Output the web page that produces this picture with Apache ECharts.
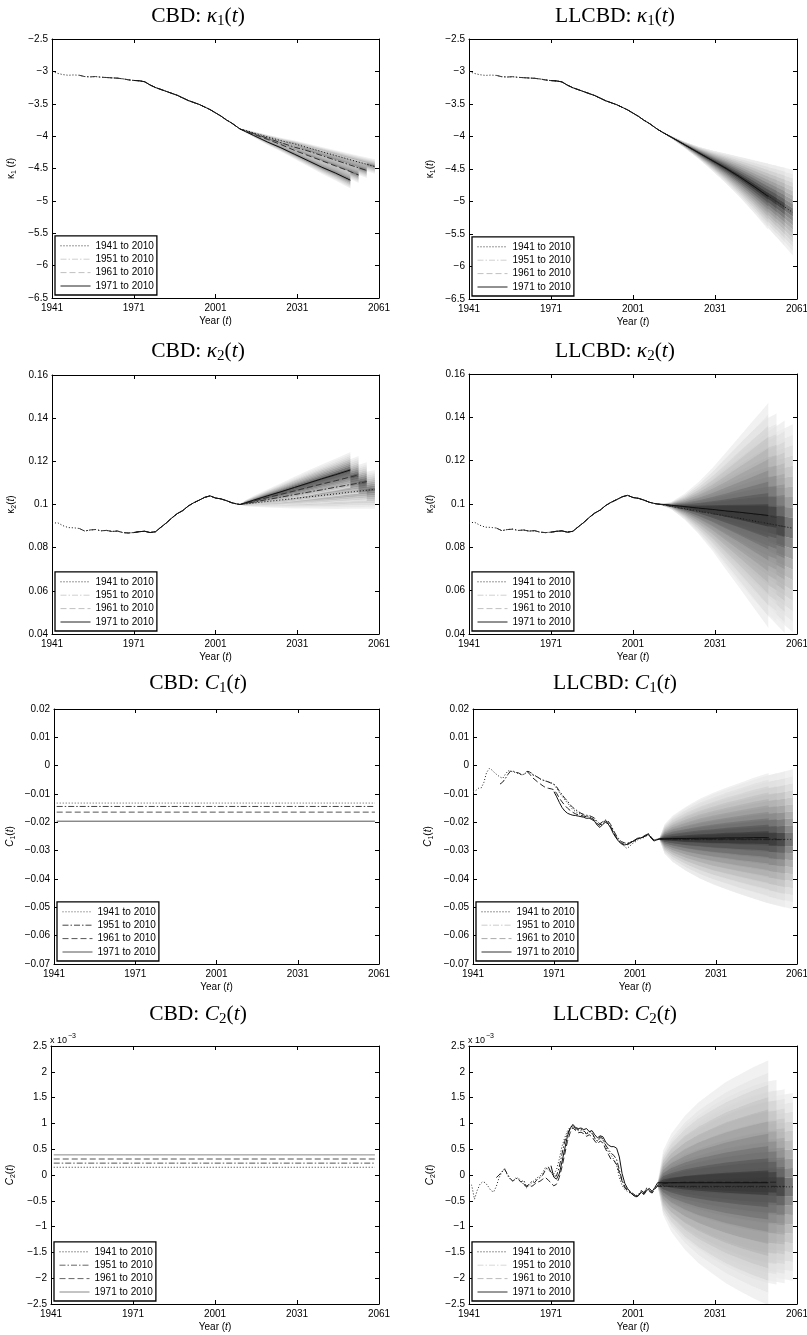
<!DOCTYPE html>
<html><head><meta charset="utf-8">
<script src="https://cdn.jsdelivr.net/npm/echarts@6/dist/echarts.min.js"></script>
<style>html,body{margin:0;padding:0;background:#fff}#c{width:807px;height:1335px}</style>
</head><body><div id="c"></div>
<script>
// ---------------- DATA ----------------
const FIT_NAMES = ['1941 to 2010', '1951 to 2010', '1961 to 2010', '1971 to 2010'];
const FIT_START = [1941, 1951, 1961, 1971];
const X_TICKS = [1941, 1971, 2001, 2031, 2061];
const K1_TICKS = [-6.5, -6, -5.5, -5, -4.5, -4, -3.5, -3, -2.5];
const K2_TICKS = [0.04, 0.06, 0.08, 0.1, 0.12, 0.14, 0.16];
const C1_TICKS = [-0.07, -0.06, -0.05, -0.04, -0.03, -0.02, -0.01, 0, 0.01, 0.02];
const C2_TICKS = [-2.5, -2, -1.5, -1, -0.5, 0, 0.5, 1, 1.5, 2, 2.5]; // x 10^-3

// forecast knot years (plus each fit's own end year)
const FC_KNOTS = [2010, 2012, 2015, 2020, 2025, 2030, 2035, 2040, 2045, 2050];
const FC_END = [2059.5, 2056.5, 2053.5, 2050.5];

const KAPPA1_HIST = [[1941,-3.00],[1943,-3.03],[1945,-3.05],[1947,-3.06],[1949,-3.055],[1951,-3.06],[1953,-3.08],[1955,-3.085],[1957,-3.08],[1959,-3.09],[1961,-3.095],[1963,-3.10],[1965,-3.105],[1967,-3.115],[1969,-3.13],[1971,-3.14],[1973,-3.145],[1975,-3.16],[1977,-3.21],[1979,-3.25],[1981,-3.28],[1983,-3.31],[1985,-3.34],[1987,-3.37],[1989,-3.41],[1991,-3.45],[1993,-3.48],[1995,-3.51],[1997,-3.55],[1999,-3.59],[2001,-3.64],[2003,-3.69],[2005,-3.75],[2007,-3.80],[2009,-3.86],[2010,-3.89]];
const KAPPA2_HIST = [[1941,0.0912],[1943,0.0916],[1945,0.0902],[1947,0.0893],[1949,0.0892],[1951,0.0889],[1953,0.0877],[1955,0.0882],[1957,0.0884],[1959,0.0878],[1961,0.0880],[1963,0.0875],[1965,0.0877],[1967,0.0870],[1969,0.0868],[1971,0.0870],[1973,0.0874],[1975,0.0876],[1977,0.0870],[1979,0.0874],[1981,0.0895],[1983,0.0915],[1985,0.0938],[1987,0.0958],[1989,0.0972],[1991,0.0993],[1993,0.1008],[1995,0.1020],[1997,0.1033],[1999,0.1040],[2001,0.1030],[2003,0.1026],[2005,0.1018],[2007,0.1008],[2009,0.1002],[2010,0.1000]];

// CBD kappa1 forecasts (rows: 1941, 1951, 1961, 1971 fits)
const CBD_K1_CENTER = [
  [-3.89,-3.91,-3.95,-4.01,-4.07,-4.12,-4.18,-4.24,-4.30,-4.36,-4.47],
  [-3.89,-3.92,-3.96,-4.03,-4.10,-4.17,-4.23,-4.30,-4.37,-4.44,-4.53],
  [-3.89,-3.92,-3.97,-4.05,-4.13,-4.22,-4.30,-4.38,-4.46,-4.54,-4.60],
  [-3.89,-3.93,-3.99,-4.09,-4.18,-4.28,-4.38,-4.48,-4.57,-4.67,-4.68]];
const CBD_K1_SPREAD = [
  [0,0.012,0.020,0.032,0.043,0.053,0.063,0.073,0.083,0.093,0.112],
  [0,0.013,0.022,0.035,0.047,0.058,0.069,0.080,0.091,0.102,0.118],
  [0,0.014,0.024,0.038,0.051,0.064,0.076,0.088,0.100,0.112,0.124],
  [0,0.016,0.027,0.043,0.058,0.072,0.086,0.100,0.114,0.128,0.130]];
// LLCBD kappa1
const LL_K1_CENTER = [
  [-3.89,-3.94,-4.01,-4.13,-4.25,-4.37,-4.49,-4.62,-4.76,-4.90,-5.17],
  [-3.89,-3.94,-4.01,-4.13,-4.25,-4.37,-4.49,-4.62,-4.76,-4.90,-5.08],
  [-3.89,-3.94,-4.01,-4.13,-4.25,-4.37,-4.49,-4.62,-4.76,-4.90,-5.00],
  [-3.89,-3.94,-4.01,-4.13,-4.25,-4.37,-4.49,-4.62,-4.76,-4.91,-4.92]];
const LL_K1_SPREAD = [
  [0,0.005,0.015,0.045,0.09,0.15,0.22,0.30,0.39,0.48,0.66],
  [0,0.005,0.015,0.045,0.09,0.15,0.22,0.30,0.39,0.48,0.60],
  [0,0.005,0.015,0.045,0.09,0.15,0.22,0.30,0.39,0.48,0.55],
  [0,0.005,0.016,0.047,0.094,0.155,0.23,0.31,0.40,0.50,0.51]];
// CBD kappa2
const CBD_K2_CENTER = [
  [0.1000,0.1003,0.1007,0.1014,0.1021,0.1028,0.1035,0.1042,0.1049,0.1057,0.1070],
  [0.1000,0.1005,0.1011,0.1023,0.1034,0.1046,0.1057,0.1068,0.1080,0.1091,0.1106],
  [0.1000,0.1006,0.1016,0.1032,0.1047,0.1063,0.1079,0.1095,0.1110,0.1126,0.1137],
  [0.1000,0.1008,0.1020,0.1040,0.1059,0.1079,0.1099,0.1119,0.1138,0.1158,0.1160]];
const CBD_K2_SPREAD = [
  [0,0.0011,0.0018,0.0028,0.0037,0.0046,0.0054,0.0062,0.0070,0.0077,0.0090],
  [0,0.0011,0.0018,0.0028,0.0037,0.0046,0.0055,0.0063,0.0071,0.0079,0.0090],
  [0,0.0012,0.0019,0.0029,0.0039,0.0048,0.0057,0.0065,0.0073,0.0081,0.0088],
  [0,0.0012,0.0020,0.0030,0.0040,0.0049,0.0058,0.0066,0.0074,0.0082,0.0083]];
// LLCBD kappa2
const LL_K2_CENTER = [
  [0.1000,0.0996,0.0989,0.0978,0.0967,0.0956,0.0945,0.0934,0.0922,0.0911,0.0888],
  [0.1000,0.0996,0.0989,0.0977,0.0966,0.0955,0.0944,0.0933,0.0921,0.0910,0.0895],
  [0.1000,0.0998,0.0994,0.0987,0.0980,0.0973,0.0966,0.0959,0.0952,0.0945,0.0938],
  [0.1000,0.0998,0.0994,0.0988,0.0981,0.0975,0.0968,0.0962,0.0955,0.0948,0.0947]];
const LL_K2_SPREAD = [
  [0,0.0004,0.0012,0.0048,0.0095,0.0155,0.022,0.028,0.034,0.040,0.048],
  [0,0.0004,0.0013,0.0050,0.0100,0.0160,0.023,0.030,0.036,0.042,0.049],
  [0,0.0004,0.0014,0.0055,0.0110,0.0175,0.025,0.032,0.039,0.045,0.048],
  [0,0.0004,0.0015,0.0060,0.0120,0.0190,0.027,0.035,0.043,0.051,0.052]];

// CBD C1 / C2 constant estimates
const CBD_C1_LEVELS = [-0.0132, -0.0144, -0.0164, -0.0196];
const CBD_C2_LEVELS = [0.15, 0.23, 0.31, 0.39]; // x 10^-3
const CBD_C_SPAN = [1942, 2059.5];

// LLCBD C1 history
const LL_C1_HIST_1941 = [[1941,-0.0092],[1942,-0.0088],[1943,-0.0080],[1944,-0.0079],[1945,-0.0060],[1946,-0.0025],[1947,-0.0010],[1948,-0.0015],[1949,-0.0025],[1950,-0.0033],[1951,-0.0040],[1952,-0.0045],[1953,-0.0030],[1954,-0.0018],[1955,-0.0020],[1956,-0.0022],[1957,-0.0025],[1958,-0.0028],[1959,-0.0033],[1960,-0.0030],[1961,-0.0022],[1962,-0.0020],[1963,-0.0030],[1964,-0.0035],[1965,-0.0040],[1966,-0.0048],[1967,-0.0052],[1968,-0.0055],[1969,-0.0057],[1970,-0.0060],[1971,-0.0068],[1972,-0.0080],[1973,-0.0095],[1974,-0.0108],[1975,-0.0120],[1976,-0.0132],[1977,-0.0145],[1978,-0.0155],[1979,-0.0162],[1980,-0.0168],[1981,-0.0172],[1982,-0.0175],[1983,-0.0180],[1984,-0.0178],[1985,-0.0185],[1986,-0.0190],[1987,-0.0205],[1988,-0.0212],[1989,-0.0205],[1990,-0.0198],[1991,-0.0200],[1992,-0.0215],[1993,-0.0235],[1994,-0.0250],[1995,-0.0265],[1996,-0.0275],[1997,-0.0285],[1998,-0.0292],[1999,-0.0285],[2000,-0.0275],[2001,-0.0270],[2002,-0.0262],[2003,-0.0258],[2004,-0.0255],[2005,-0.0250],[2006,-0.0245],[2007,-0.0255],[2008,-0.0262],[2009,-0.0260],[2010,-0.0258]];
const LL_C1_HIST_1951 = [[1951,-0.0065],[1952,-0.0058],[1953,-0.0045],[1954,-0.0030],[1955,-0.0018],[1956,-0.0020],[1957,-0.0024],[1958,-0.0026],[1959,-0.0032],[1960,-0.0030],[1961,-0.0020],[1962,-0.0022],[1963,-0.0032],[1964,-0.0036],[1965,-0.0041],[1966,-0.0047],[1967,-0.0051],[1968,-0.0054],[1969,-0.0058],[1970,-0.0062],[1971,-0.0065],[1972,-0.0075],[1973,-0.0090],[1974,-0.0102],[1975,-0.0115],[1976,-0.0125],[1977,-0.0138],[1978,-0.0148],[1979,-0.0155],[1980,-0.0162],[1981,-0.0168],[1982,-0.0172],[1983,-0.0175],[1984,-0.0176],[1985,-0.0180],[1986,-0.0185],[1987,-0.0198],[1988,-0.0205],[1989,-0.0198],[1990,-0.0192],[1991,-0.0195],[1992,-0.0208],[1993,-0.0228],[1994,-0.0245],[1995,-0.0258],[1996,-0.0268],[1997,-0.0272],[1998,-0.0275],[1999,-0.0270],[2000,-0.0268],[2001,-0.0265],[2002,-0.0258],[2003,-0.0256],[2004,-0.0252],[2005,-0.0245],[2006,-0.0240],[2007,-0.0252],[2008,-0.0262],[2009,-0.0260],[2010,-0.0259]];
const LL_C1_HIST_1961 = [[1961,-0.0020],[1962,-0.0030],[1963,-0.0042],[1964,-0.0050],[1965,-0.0058],[1966,-0.0065],[1967,-0.0072],[1968,-0.0078],[1969,-0.0080],[1970,-0.0082],[1971,-0.0085],[1972,-0.0098],[1973,-0.0115],[1974,-0.0128],[1975,-0.0140],[1976,-0.0150],[1977,-0.0158],[1978,-0.0165],[1979,-0.0170],[1980,-0.0174],[1981,-0.0176],[1982,-0.0178],[1983,-0.0180],[1984,-0.0182],[1985,-0.0186],[1986,-0.0192],[1987,-0.0205],[1988,-0.0210],[1989,-0.0200],[1990,-0.0195],[1991,-0.0200],[1992,-0.0215],[1993,-0.0235],[1994,-0.0252],[1995,-0.0265],[1996,-0.0272],[1997,-0.0278],[1998,-0.0280],[1999,-0.0275],[2000,-0.0268],[2001,-0.0262],[2002,-0.0258],[2003,-0.0255],[2004,-0.0250],[2005,-0.0245],[2006,-0.0240],[2007,-0.0255],[2008,-0.0265],[2009,-0.0262],[2010,-0.0260]];
const LL_C1_HIST_1971 = [[1971,-0.0092],[1972,-0.0110],[1973,-0.0130],[1974,-0.0148],[1975,-0.0160],[1976,-0.0168],[1977,-0.0172],[1978,-0.0175],[1979,-0.0176],[1980,-0.0178],[1981,-0.0180],[1982,-0.0182],[1983,-0.0186],[1984,-0.0185],[1985,-0.0190],[1986,-0.0196],[1987,-0.0210],[1988,-0.0218],[1989,-0.0208],[1990,-0.0200],[1991,-0.0205],[1992,-0.0220],[1993,-0.0240],[1994,-0.0255],[1995,-0.0268],[1996,-0.0276],[1997,-0.0280],[1998,-0.0278],[1999,-0.0272],[2000,-0.0268],[2001,-0.0262],[2002,-0.0256],[2003,-0.0255],[2004,-0.0252],[2005,-0.0248],[2006,-0.0242],[2007,-0.0256],[2008,-0.0266],[2009,-0.0262],[2010,-0.0258]];
const LL_C1_CENTER = [
  [-0.0258,-0.0259,-0.0260,-0.0260,-0.0260,-0.0260,-0.0260,-0.0260,-0.0260,-0.0260,-0.0260],
  [-0.0259,-0.0260,-0.0261,-0.0261,-0.0261,-0.0261,-0.0261,-0.0261,-0.0261,-0.0261,-0.0261],
  [-0.0260,-0.0260,-0.0259,-0.0259,-0.0259,-0.0259,-0.0259,-0.0259,-0.0259,-0.0259,-0.0259],
  [-0.0258,-0.0258,-0.0257,-0.0257,-0.0256,-0.0256,-0.0255,-0.0255,-0.0254,-0.0254,-0.0254]];
const LL_C1_SPREAD = [
  [0,0.0050,0.0079,0.0111,0.0137,0.0158,0.0176,0.0193,0.0209,0.0224,0.0247],
  [0,0.0050,0.0079,0.0111,0.0137,0.0158,0.0176,0.0193,0.0209,0.0224,0.0240],
  [0,0.0050,0.0079,0.0111,0.0137,0.0158,0.0176,0.0193,0.0209,0.0224,0.0232],
  [0,0.0052,0.0081,0.0113,0.0139,0.0160,0.0178,0.0195,0.0211,0.0226,0.0227]];

// LLCBD C2 history (x 10^-3)
const LL_C2_HIST_1941 = [[1941,-0.15],[1942,-0.20],[1943,-0.47],[1944,-0.30],[1945,-0.18],[1946,-0.13],[1947,-0.15],[1948,-0.22],[1949,-0.30],[1950,-0.33],[1951,-0.22],[1952,-0.05],[1953,0.05],[1954,0.12],[1955,0.00],[1956,-0.08],[1957,-0.12],[1958,-0.08],[1959,-0.05],[1960,-0.12],[1961,-0.18],[1962,-0.25],[1963,-0.20],[1964,-0.15],[1965,-0.10],[1966,-0.05],[1967,-0.02],[1968,0.05],[1969,0.15],[1970,0.10],[1971,0.05],[1972,0.02],[1973,0.10],[1974,0.30],[1975,0.55],[1976,0.72],[1977,0.85],[1978,0.93],[1979,0.95],[1980,0.88],[1981,0.86],[1982,0.87],[1983,0.85],[1984,0.78],[1985,0.84],[1986,0.80],[1987,0.70],[1988,0.65],[1989,0.72],[1990,0.68],[1991,0.55],[1992,0.45],[1993,0.38],[1994,0.30],[1995,0.20],[1996,-0.05],[1997,-0.20],[1998,-0.28],[1999,-0.32],[2000,-0.35],[2001,-0.38],[2002,-0.42],[2003,-0.40],[2004,-0.32],[2005,-0.35],[2006,-0.25],[2007,-0.28],[2008,-0.32],[2009,-0.25],[2010,-0.20]];
const LL_C2_HIST_1951 = [[1951,-0.05],[1952,0.00],[1953,0.06],[1954,0.12],[1955,0.02],[1956,-0.06],[1957,-0.12],[1958,-0.06],[1959,-0.08],[1960,-0.14],[1961,-0.10],[1962,-0.22],[1963,-0.18],[1964,-0.12],[1965,-0.15],[1966,-0.08],[1967,-0.05],[1968,0.00],[1969,0.10],[1970,0.16],[1971,0.05],[1972,-0.02],[1973,-0.02],[1974,0.15],[1975,0.40],[1976,0.65],[1977,0.80],[1978,0.90],[1979,0.96],[1980,0.90],[1981,0.88],[1982,0.89],[1983,0.86],[1984,0.80],[1985,0.85],[1986,0.82],[1987,0.72],[1988,0.66],[1989,0.74],[1990,0.70],[1991,0.58],[1992,0.50],[1993,0.42],[1994,0.38],[1995,0.30],[1996,0.10],[1997,-0.10],[1998,-0.22],[1999,-0.28],[2000,-0.32],[2001,-0.36],[2002,-0.40],[2003,-0.38],[2004,-0.30],[2005,-0.34],[2006,-0.26],[2007,-0.30],[2008,-0.34],[2009,-0.26],[2010,-0.22]];
const LL_C2_HIST_1961 = [[1961,-0.17],[1962,-0.23],[1963,-0.20],[1964,-0.22],[1965,-0.18],[1966,-0.14],[1967,-0.12],[1968,-0.08],[1969,-0.05],[1970,-0.10],[1971,-0.15],[1972,-0.21],[1973,-0.18],[1974,-0.05],[1975,0.15],[1976,0.40],[1977,0.65],[1978,0.82],[1979,0.92],[1980,0.86],[1981,0.82],[1982,0.83],[1983,0.80],[1984,0.75],[1985,0.78],[1986,0.74],[1987,0.66],[1988,0.60],[1989,0.66],[1990,0.62],[1991,0.50],[1992,0.40],[1993,0.30],[1994,0.28],[1995,0.20],[1996,0.05],[1997,-0.12],[1998,-0.25],[1999,-0.30],[2000,-0.34],[2001,-0.38],[2002,-0.43],[2003,-0.40],[2004,-0.33],[2005,-0.36],[2006,-0.28],[2007,-0.32],[2008,-0.35],[2009,-0.28],[2010,-0.20]];
const LL_C2_HIST_1971 = [[1971,0.18],[1972,-0.04],[1973,-0.08],[1974,0.02],[1975,0.25],[1976,0.50],[1977,0.75],[1978,0.90],[1979,0.98],[1980,0.92],[1981,0.90],[1982,0.91],[1983,0.88],[1984,0.90],[1985,0.84],[1986,0.86],[1987,0.78],[1988,0.72],[1989,0.76],[1990,0.74],[1991,0.64],[1992,0.58],[1993,0.55],[1994,0.55],[1995,0.52],[1996,0.35],[1997,0.03],[1998,-0.16],[1999,-0.26],[2000,-0.33],[2001,-0.39],[2002,-0.42],[2003,-0.40],[2004,-0.33],[2005,-0.38],[2006,-0.30],[2007,-0.26],[2008,-0.32],[2009,-0.24],[2010,-0.15]];
const LL_C2_CENTER = [
  [-0.20,-0.21,-0.22,-0.23,-0.23,-0.23,-0.23,-0.23,-0.23,-0.23,-0.23],
  [-0.22,-0.22,-0.22,-0.22,-0.22,-0.22,-0.22,-0.22,-0.22,-0.22,-0.22],
  [-0.20,-0.17,-0.15,-0.14,-0.14,-0.14,-0.14,-0.14,-0.14,-0.14,-0.14],
  [-0.15,-0.15,-0.15,-0.15,-0.15,-0.15,-0.15,-0.15,-0.15,-0.15,-0.15]];
const LL_C2_SPREAD = [
  [0,0.47,0.70,0.95,1.14,1.30,1.43,1.55,1.65,1.73,1.82],
  [0,0.50,0.75,1.00,1.20,1.37,1.51,1.63,1.73,1.82,1.88],
  [0,0.55,0.80,1.10,1.30,1.48,1.63,1.76,1.87,1.95,1.98],
  [0,0.62,0.95,1.30,1.56,1.76,1.95,2.10,2.24,2.36,2.37]];

// fan bands: fractions of the outer half-width, outer to inner
const RING_FRACTIONS = [1, 0.9, 0.8, 0.7, 0.6, 0.5, 0.4, 0.3, 0.2, 0.1];

// ---------------- STYLE / LAYOUT ----------------
const FONT = 'Liberation Sans, Arial, sans-serif';
const SERIF = 'Liberation Serif, Times New Roman, serif';
const FAN_SHADES = ['#ebebeb','#dfdfdf','#d1d1d1','#c2c2c2','#b1b1b1','#9e9e9e','#898989','#717171','#575757','#393939'];
const FAN_OPACITY = 0.7;
const DASH = [[1, 2], [6, 2, 1.5, 2], [6, 3], 'solid'];
const GRIDS = [
  {left: 52, top: 39, width: 327, height: 259},
  {left: 469, top: 39, width: 328, height: 260},
  {left: 52, top: 375, width: 327, height: 259},
  {left: 469, top: 374, width: 328, height: 260},
  {left: 54, top: 709, width: 325, height: 255},
  {left: 473, top: 709, width: 324, height: 255},
  {left: 51, top: 1046, width: 328, height: 258},
  {left: 469, top: 1046, width: 328, height: 258}];
const TITLE_POS = [[198,16],[615,16],[198,351],[615,351],[198,683],[615,683],[198,1014],[615,1014]];
const YNAME_GAP = [34, 32, 34, 32, 37, 38, 34, 32];
const LINE_COLORS = [
  ['#111','#333','#333','#111'], ['#111','#333','#333','#111'],
  ['#111','#333','#333','#111'], ['#111','#333','#333','#111'],
  ['#555','#444','#555','#555'], ['#222','#222','#222','#111'],
  ['#333','#555','#555','#888'], ['#222','#222','#222','#111']];
const LEGEND_COLORS = [
  ['#333','#d0d0d0','#c0c0c0','#222'], ['#333','#d0d0d0','#c0c0c0','#222'],
  ['#333','#d0d0d0','#c0c0c0','#222'], ['#333','#d0d0d0','#c0c0c0','#222'],
  ['#555','#444','#555','#555'], ['#333','#cccccc','#aaaaaa','#333'],
  ['#333','#666','#666','#888'], ['#333','#d8d8d8','#bbbbbb','#333']];

const PANELS = [
  {model:'CBD',   sym:'κ', sub:'1', yname:'{g|κ}{s|1}{r| (}{i|t}{r|)}', ticks:K1_TICKS, center:CBD_K1_CENTER, spread:CBD_K1_SPREAD},
  {model:'LLCBD', sym:'κ', sub:'1', yname:'{g|κ}{s|1}{r|(}{i|t}{r|)}', ticks:K1_TICKS, center:LL_K1_CENTER, spread:LL_K1_SPREAD},
  {model:'CBD',   sym:'κ', sub:'2', yname:'{g|κ}{s|2}{r|(}{i|t}{r|)}', ticks:K2_TICKS, center:CBD_K2_CENTER, spread:CBD_K2_SPREAD},
  {model:'LLCBD', sym:'κ', sub:'2', yname:'{g|κ}{s|2}{r|(}{i|t}{r|)}', ticks:K2_TICKS, center:LL_K2_CENTER, spread:LL_K2_SPREAD},
  {model:'CBD',   sym:'C', sub:'1', yname:'{i|C}{s|1}{r|(}{i|t}{r|)}', ticks:C1_TICKS, levels:CBD_C1_LEVELS},
  {model:'LLCBD', sym:'C', sub:'1', yname:'{i|C}{s|1}{r|(}{i|t}{r|)}', ticks:C1_TICKS, center:LL_C1_CENTER, spread:LL_C1_SPREAD},
  {model:'CBD',   sym:'C', sub:'2', yname:'{i|C}{s|2}{r|(}{i|t}{r|)}', ticks:C2_TICKS, levels:CBD_C2_LEVELS},
  {model:'LLCBD', sym:'C', sub:'2', yname:'{i|C}{s|2}{r|(}{i|t}{r|)}', ticks:C2_TICKS, center:LL_C2_CENTER, spread:LL_C2_SPREAD}];

function histFor(pi, fi) {
  if (pi <= 1) return KAPPA1_HIST.filter(p => p[0] >= FIT_START[fi]);
  if (pi <= 3) return KAPPA2_HIST.filter(p => p[0] >= FIT_START[fi]);
  if (pi === 5) return [LL_C1_HIST_1941, LL_C1_HIST_1951, LL_C1_HIST_1961, LL_C1_HIST_1971][fi];
  if (pi === 7) return [LL_C2_HIST_1941, LL_C2_HIST_1951, LL_C2_HIST_1961, LL_C2_HIST_1971][fi];
  return [];
}

const fmt = v => { const r = Number(Number(v).toPrecision(6)); return r < 0 ? '\u2212' + String(-r) : String(r); };
const smallRich = {
  r: {fontSize: 10, fontFamily: FONT, color: '#000', lineHeight: 13, fontWeight: 'normal'},
  i: {fontSize: 10, fontFamily: FONT, fontStyle: 'italic', color: '#000', lineHeight: 13, fontWeight: 'normal'},
  g: {fontSize: 10, fontFamily: FONT, color: '#000', lineHeight: 13, fontWeight: 'normal'},
  s: {fontSize: 7, fontFamily: FONT, color: '#000', lineHeight: 9, verticalAlign: 'bottom', fontWeight: 'normal'}
};
const titleRich = {
  r: {fontSize: 21.5, fontFamily: SERIF, color: '#000', lineHeight: 26, fontWeight: 'normal'},
  i: {fontSize: 21.5, fontFamily: SERIF, fontStyle: 'italic', color: '#000', lineHeight: 26, fontWeight: 'normal'},
  s: {fontSize: 15, fontFamily: SERIF, color: '#000', lineHeight: 16, verticalAlign: 'bottom', fontWeight: 'normal'}
};

function fanSeries(pi, fi, center, spread) {
  const years = FC_KNOTS.concat([FC_END[fi]]);
  const n = years.length;
  return {
    type: 'custom', name: 'fan-' + pi + '-' + fi,
    xAxisIndex: 2 * pi, yAxisIndex: 2 * pi, silent: true, clip: true, z: 2,
    data: RING_FRACTIONS.map((f, k) => [years[0], center[0], k]),
    encode: {x: 0, y: 1},
    renderItem: function (params, api) {
      const k = api.value(2);
      const fo = RING_FRACTIONS[k];
      const fin = k + 1 < RING_FRACTIONS.length ? RING_FRACTIONS[k + 1] : null;
      const pt = (j, f) => api.coord([years[j], center[j] + f * spread[j]]);
      const edge = (f, rev) => { const a = []; for (let j = 0; j < n; j++) a.push(pt(j, f)); return rev ? a.reverse() : a; };
      const style = {fill: FAN_SHADES[k], opacity: FAN_OPACITY};
      const polys = [];
      if (fin === null) polys.push(edge(fo, false).concat(edge(-fo, true)));
      else {
        polys.push(edge(fo, false).concat(edge(fin, true)));
        polys.push(edge(-fo, false).concat(edge(-fin, true)));
      }
      return {type: 'group', children: polys.map(p => ({type: 'polygon', shape: {points: p}, style: style}))};
    }
  };
}

function lineSeries(pi, fi, data) {
  return {
    type: 'line', name: FIT_NAMES[fi], xAxisIndex: 2 * pi, yAxisIndex: 2 * pi, data: data,
    symbol: 'none', showSymbol: false, silent: true, clip: true, z: 3,
    lineStyle: {color: LINE_COLORS[pi][fi], width: 1, type: DASH[fi]},
    emphasis: {disabled: true}
  };
}

const option = {
  animation: false,
  backgroundColor: '#fff',
  textStyle: {fontFamily: FONT},
  title: [], grid: [], xAxis: [], yAxis: [], legend: [], series: []
};

PANELS.forEach((p, pi) => {
  const g = GRIDS[pi];
  option.grid.push(Object.assign({show: false, containLabel: false, outerBoundsMode: 'none'}, g));
  option.title.push({
    text: '{r|' + p.model + ': }{i|' + p.sym + '}{s|' + p.sub + '}{r|(}{i|t}{r|)}',
    left: TITLE_POS[pi][0], top: TITLE_POS[pi][1] - 13, textAlign: 'center', padding: 0,
    textStyle: {fontWeight: 'normal', rich: titleRich}
  });
  const axCommon = {
    axisLine: {show: true, onZero: false, lineStyle: {color: '#000', width: 1}},
    splitLine: {show: false}
  };
  option.xAxis.push(Object.assign({
    type: 'value', gridIndex: pi, position: 'bottom', min: 1941, max: 2061,
    axisTick: {show: true, inside: true, length: 4, customValues: X_TICKS, lineStyle: {color: '#000'}},
    axisLabel: {show: true, customValues: X_TICKS, margin: 5, fontSize: 10, color: '#000', fontFamily: FONT, formatter: v => String(v)},
    name: '{r|Year (}{i|t}{r|)}', nameLocation: 'middle', nameGap: 17, nameTextStyle: {rich: smallRich}
  }, axCommon));
  option.xAxis.push(Object.assign({
    type: 'value', gridIndex: pi, position: 'top', min: 1941, max: 2061,
    axisTick: {show: true, inside: true, length: 4, customValues: X_TICKS, lineStyle: {color: '#000'}},
    axisLabel: {show: false, customValues: X_TICKS}
  }, axCommon));
  const t = p.ticks;
  const interval = Number((t[1] - t[0]).toPrecision(6));
  option.yAxis.push(Object.assign({
    type: 'value', gridIndex: pi, position: 'left', min: t[0], max: t[t.length - 1], interval: interval,
    axisTick: {show: true, inside: true, length: 4, lineStyle: {color: '#000'}},
    axisLabel: {show: true, margin: 4, fontSize: 10, color: '#000', fontFamily: FONT, formatter: fmt},
    name: p.yname, nameLocation: 'middle', nameRotate: 90, nameGap: YNAME_GAP[pi], nameTextStyle: {rich: smallRich}
  }, axCommon));
  option.yAxis.push(Object.assign({
    type: 'value', gridIndex: pi, position: 'right', min: t[0], max: t[t.length - 1], interval: interval,
    axisTick: {show: true, inside: true, length: 4, lineStyle: {color: '#000'}},
    axisLabel: {show: false}
  }, axCommon));
  option.legend.push({
    orient: 'vertical', left: g.left + 3, bottom: 1335 - (g.top + g.height) + 3,
    itemWidth: 30, itemHeight: 9, itemGap: 3.4, padding: [5, 3, 4, 5],
    backgroundColor: '#fff', borderColor: '#000', borderWidth: 1.3, borderRadius: 0,
    selectedMode: false, z: 10,
    textStyle: {fontSize: 10, fontFamily: FONT, color: '#000', lineHeight: 9},
    itemStyle: {opacity: 0},
    data: FIT_NAMES.map((n, fi) => ({
      name: n, itemStyle: {opacity: 0},
      lineStyle: {color: LEGEND_COLORS[pi][fi], width: 1, type: DASH[fi], opacity: 1}
    }))
  });

  if (p.levels) {
    p.levels.forEach((lv, fi) => {
      option.series.push(lineSeries(pi, fi, [[CBD_C_SPAN[0], lv], [CBD_C_SPAN[1], lv]]));
    });
  } else {
    for (let fi = 0; fi < 4; fi++) option.series.push(fanSeries(pi, fi, p.center[fi], p.spread[fi]));
    for (let fi = 0; fi < 4; fi++) {
      const years = FC_KNOTS.concat([FC_END[fi]]);
      const fc = years.slice(1).map((y, j) => [y, p.center[fi][j + 1]]);
      option.series.push(lineSeries(pi, fi, histFor(pi, fi).concat(fc)));
    }
  }
});

// "x 10^-3" multiplier labels for the C2 panels
[6, 7].forEach(pi => {
  option.title.push({
    text: '{a|x 10}{b|\u22123}', left: GRIDS[pi].left - 1, top: GRIDS[pi].top - 13, padding: 0,
    textStyle: {fontWeight: 'normal', rich: {
      a: {fontSize: 9, fontFamily: FONT, color: '#000', lineHeight: 12, verticalAlign: 'bottom', fontWeight: 'normal'},
      b: {fontSize: 7, fontFamily: FONT, color: '#000', lineHeight: 12, verticalAlign: 'top', padding: [0, 0, 4, 1], fontWeight: 'normal'}
    }}
  });
});

const chart = echarts.init(document.getElementById('c'), null, {renderer: 'canvas'});
chart.setOption(option);
</script>
</body></html>
